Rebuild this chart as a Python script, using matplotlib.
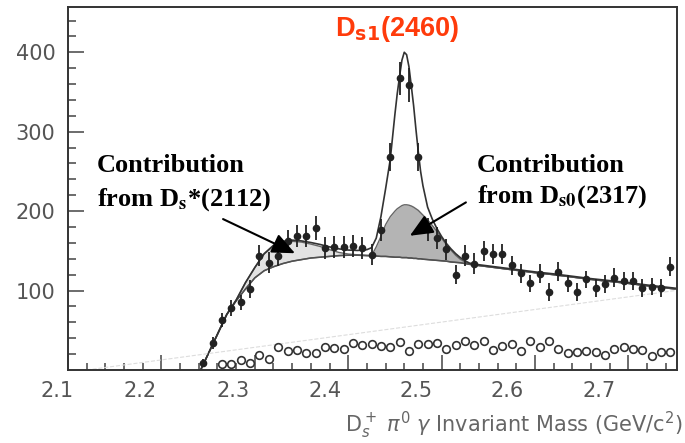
#Ds1(2460) mass spectrum with fit contributions
import matplotlib
matplotlib.use('Agg')
import matplotlib.pyplot as plt
import matplotlib.transforms as mtransforms
import numpy as np

#filled data points (bin centers every 10 MeV), counts and errors
bin_start = 2.245
bin_width = 0.01
counts = [9, 34, 63, 78, 85, 102, 144, 135, 144, 162, 169, 169, 179, 154, 155, 155, 156, 154, 145, 176,
          268, 367, 359, 268, 177, 166, 152, 120, 144, 134, 150, 146, 146, 132, 122, 109, 121, 98, 124, 109,
          98, 114, 103, 108, 116, 112, 112, 103, 105, 103, 130]
errors = [5, 7, 9, 10, 10, 11, 13, 13, 13, 14, 14, 14, 15, 14, 14, 14, 14, 14, 13, 14,
          18, 21, 21, 18, 14, 14, 13, 12, 13, 13, 13, 13, 13, 12, 12, 11, 12, 11, 12, 11,
          11, 11, 11, 11, 12, 11, 11, 11, 11, 11, 12]

#open circles (starting at 2.265)
open_start = 2.265
open_counts = [8, 8, 13, 9, 19, 14, 29, 24, 25, 21, 22, 29, 28, 26, 34, 32, 33, 30, 29, 35,
               24, 33, 33, 34, 26, 32, 36, 31, 37, 25, 30, 33, 24, 37, 29, 36, 27, 22, 23, 24,
               23, 19, 27, 29, 26, 25, 18, 23, 23]

#fit curves
xc = [2.242, 2.25, 2.26, 2.27, 2.28, 2.29, 2.30, 2.31, 2.32, 2.33, 2.34, 2.35, 2.36, 2.37, 2.38, 2.39,
      2.40, 2.41, 2.42, 2.425, 2.43, 2.435, 2.44, 2.445, 2.45, 2.4525, 2.455, 2.4575, 2.46, 2.4625,
      2.465, 2.4675, 2.47, 2.4725, 2.475, 2.4775, 2.48, 2.485, 2.49, 2.495, 2.50, 2.505, 2.51, 2.515,
      2.52, 2.525, 2.53, 2.54, 2.56, 2.58, 2.60, 2.62, 2.64, 2.66, 2.68, 2.70, 2.72, 2.75]
background = [0, 20, 45, 70, 87, 102, 116, 125, 130, 134, 137, 139, 141, 142, 143, 144,
              144.5, 144.5, 144, 144, 143.5, 143, 143, 142.5, 142, 142, 142, 141.5, 141.5, 141.5,
              141, 141, 140.5, 140.5, 140, 140, 139.5, 139, 138.5, 138, 137.5, 137, 136, 135.5,
              135, 134, 133, 131.5, 128.5, 125.5, 122.5, 120, 117, 114, 111.5, 109, 106, 102]
ds_star_top = [0, 20, 45, 70, 88, 110, 129, 146, 156, 161, 162, 161, 158.5, 155.5, 151.5, 148,
               146, 145, 144.3, 144, 143.5, 143, 143, 142.5, 142, 142, 142, 141.5, 141.5, 141.5,
               141, 141, 140.5, 140.5, 140, 140, 139.5, 139, 138.5, 138, 137.5, 137, 136, 135.5,
               135, 134, 133, 131.5, 128.5, 125.5, 122.5, 120, 117, 114, 111.5, 109, 106, 102]
ds0_top = [0, 20, 45, 70, 87, 102, 116, 125, 130, 134, 137, 139, 141, 142, 143, 144,
           144.5, 144.5, 144, 144, 155, 168, 183, 193, 200, 203, 205, 207, 208, 208,
           207.5, 206.5, 205, 203, 201, 198, 195, 189, 182, 174.5, 166, 158, 151, 144.5,
           139.5, 136, 133.5, 131.5, 128.5, 125.5, 122.5, 120, 117, 114, 111.5, 109, 106, 102]
total = [0, 20, 45, 70, 88, 110, 129, 146.5, 157, 162, 163.5, 162.5, 160.5, 158, 155, 152.5,
         151, 150.5, 151.5, 154, 166, 193, 228, 265, 322, 348, 370, 390, 400, 397,
         382, 358, 333, 303, 275, 250, 232, 205, 190, 178, 168, 159.5, 152.5, 146.5,
         141.5, 137.5, 134.5, 132.5, 129.5, 126.5, 123.5, 121, 118, 115, 112.5, 110, 107, 103]

#faint dashed line
dash_x = [2.12, 2.75]
dash_y = [0, 100]

xticks = [2.1, 2.2, 2.3, 2.4, 2.5, 2.6, 2.7]
yticks = [100, 200, 300, 400]

xb = bin_start + bin_width * np.arange(len(counts))
xo = open_start + bin_width * np.arange(len(open_counts))

fig = plt.figure(figsize=(6.85, 4.43), dpi=100)
ax = fig.add_axes([0.0993, 0.1648, 0.8890, 0.8194])

ax.fill_between(xc, background, ds_star_top, color='#e2e2e2', lw=0)
ax.fill_between(xc, background, ds0_top, color='#b4b4b4', lw=0)
ax.plot(xc, ds_star_top, color='#666666', lw=1.0)
ax.plot(xc, ds0_top, color='#666666', lw=1.0)
ax.plot(xc, background, color='#505050', lw=1.1)
ax.plot(xc, total, color='#333333', lw=1.2)
ax.plot(dash_x, dash_y, color='#dddddd', lw=0.8, ls='--')

ax.plot(xo, open_counts, 'o', mfc='none', mec='#333333', ms=5.5, mew=1.2)
ax.errorbar(xb, counts, yerr=errors, fmt='o', color='#222222', ms=4.5, elinewidth=1.3, capsize=0)

#labels and arrows
ax.text(2.452, 420, r'D$_{\mathbf{s1}}$(2460)', color='#ff3b0b', fontsize=19.5, fontweight='bold',
        family='Liberation Sans', math_fontfamily='dejavusans', ha='center', va='baseline')
ax.text(2.131, 249, 'Contribution', fontsize=19, fontweight='bold', family='Liberation Serif',
        va='baseline')
ax.text(2.131, 207, r'from D$_{\mathbf{s}}$*(2112)', fontsize=19, fontweight='bold',
        family='Liberation Serif', math_fontfamily='stix', va='baseline')
ax.text(2.538, 249, 'Contribution', fontsize=19, fontweight='bold', family='Liberation Serif',
        va='baseline')
ax.text(2.538, 211, r'from D$_{\mathbf{s0}}$(2317)', fontsize=19, fontweight='bold',
        family='Liberation Serif', math_fontfamily='stix', va='baseline')

arrow = dict(arrowstyle='-|>,head_length=0.5,head_width=0.22', color='black', lw=1.5,
             mutation_scale=28, shrinkA=0, shrinkB=0)
ax.annotate('', xy=(2.343, 147), xytext=(2.266, 190), arrowprops=arrow)
ax.annotate('', xy=(2.466, 169), xytext=(2.526, 211), arrowprops=arrow)

ax.set_xlim(2.1, 2.752)
ax.set_ylim(0, 457)
ax.set_xticks(xticks)
ax.set_xticks(np.arange(2.12, 2.75, 0.02), minor=True)
ax.set_yticks(yticks)
ax.set_yticks([v for v in range(20, 456, 20) if v % 100], minor=True)
ax.set_xticklabels([str(t) for t in xticks])

for side in ['top', 'right', 'left', 'bottom']:
    ax.spines[side].set_color('#333333')
    ax.spines[side].set_linewidth(1.4)
ax.tick_params(which='both', direction='in', colors='#444444', width=1.1,
               labelcolor='#555555', labelsize=15)
ax.tick_params(axis='x', which='major', length=10.5, pad=8)
ax.tick_params(axis='x', which='minor', length=5)
ax.tick_params(axis='y', which='major', length=11.5, pad=9)
ax.tick_params(axis='y', which='minor', length=5.8)

#tick labels in the picture sit left of their ticks
shifts = [-11, -21, -22, -23, -26, -28, -29]
for lbl, s in zip(ax.get_xticklabels(), shifts):
    lbl.set_transform(lbl.get_transform() + mtransforms.ScaledTranslation(s / 100, 0, fig.dpi_scale_trans))

ax.set_xlabel(r'D$_s^+$ $\pi^0$ $\gamma$ Invariant Mass (GeV/c$^2$)', fontsize=15, color='#666666')
ax.xaxis.set_label_coords(1.01, -0.11)
ax.xaxis.label.set_horizontalalignment('right')

fig.savefig('out.png', dpi=100)
